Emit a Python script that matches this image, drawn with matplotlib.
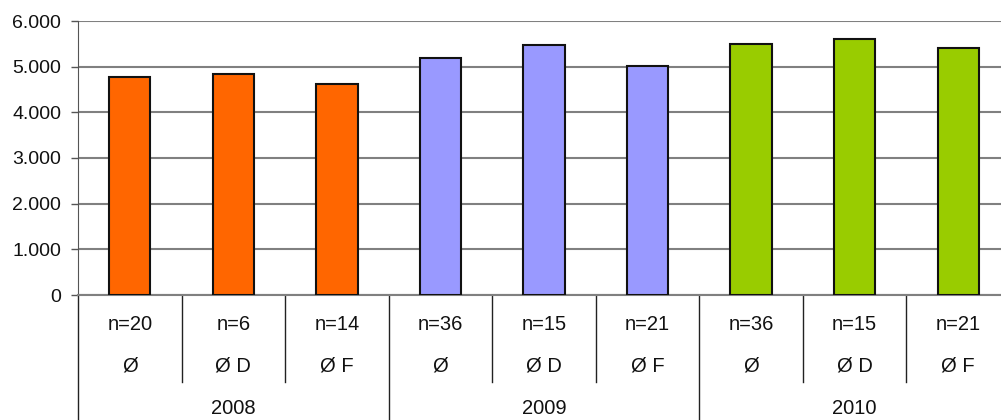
import numpy as np
import matplotlib.pyplot as plt
from matplotlib.ticker import FuncFormatter
import matplotlib.transforms as mtransforms

years = ['2008', '2009', '2010']
sub_labels = ['Ø', 'Ø D', 'Ø F']
n_labels = ['n=20', 'n=6', 'n=14', 'n=36', 'n=15', 'n=21', 'n=36', 'n=15', 'n=21']
values = [4780, 4850, 4610, 5200, 5480, 5010, 5500, 5610, 5410]
year_colors = ['#FF6600', '#9999FF', '#99CC00']

plt.rcParams['font.family'] = ['Liberation Sans', 'DejaVu Sans']

fig = plt.figure(figsize=(10.01, 4.2), dpi=100)
ax = fig.add_axes([78 / 1001, 125 / 420, 932 / 1001, 274 / 420])

x = np.arange(len(values))
colors = [year_colors[i // 3] for i in range(len(values))]
ax.bar(x, values, width=0.4, color=colors, edgecolor='#111111', linewidth=1.5, zorder=3)

ax.set_xlim(-0.5, len(values) - 0.5)
ax.set_ylim(0, 6000)
ax.set_yticks(np.arange(0, 6001, 1000))
ax.yaxis.set_major_formatter(FuncFormatter(lambda v, p: f'{v:,.0f}'.replace(',', '.')))
ax.tick_params(axis='y', labelsize=14, length=5, width=1, pad=7, colors='#555555', labelcolor='#111111')
ax.set_xticks([])
ax.grid(axis='y', color='#808080', linewidth=1.5, zorder=0)

for side in ['top', 'right']:
    ax.spines[side].set_visible(False)
ax.spines['left'].set_color('#555555')
ax.spines['bottom'].set_color('#808080')
ax.spines['bottom'].set_linewidth(1.5)

# category table below the axis
trans = mtransforms.blended_transform_factory(ax.transData, ax.transAxes)
y_sub_end = (295 - 382) / 274
y_bottom = (295 - 421) / 274
for k in range(len(values) + 1):
    xpos = k - 0.5
    y_end = y_bottom if k % 3 == 0 else y_sub_end
    ax.plot([xpos, xpos], [0, y_end], transform=trans, color='#222222', linewidth=1, clip_on=False)

for i in range(len(values)):
    ax.text(i, (295 - 324) / 274, n_labels[i], transform=trans, ha='center', va='center',
            fontsize=14.5, color='#111111')
    ax.text(i, (295 - 366) / 274, sub_labels[i % 3], transform=trans, ha='center', va='center',
            fontsize=14.5, color='#111111')

for g, yr in enumerate(years):
    ax.text(g * 3 + 1, (295 - 408) / 274, yr, transform=trans, ha='center', va='center',
            fontsize=14.5, color='#111111')

fig.savefig('out.png', dpi=100)
